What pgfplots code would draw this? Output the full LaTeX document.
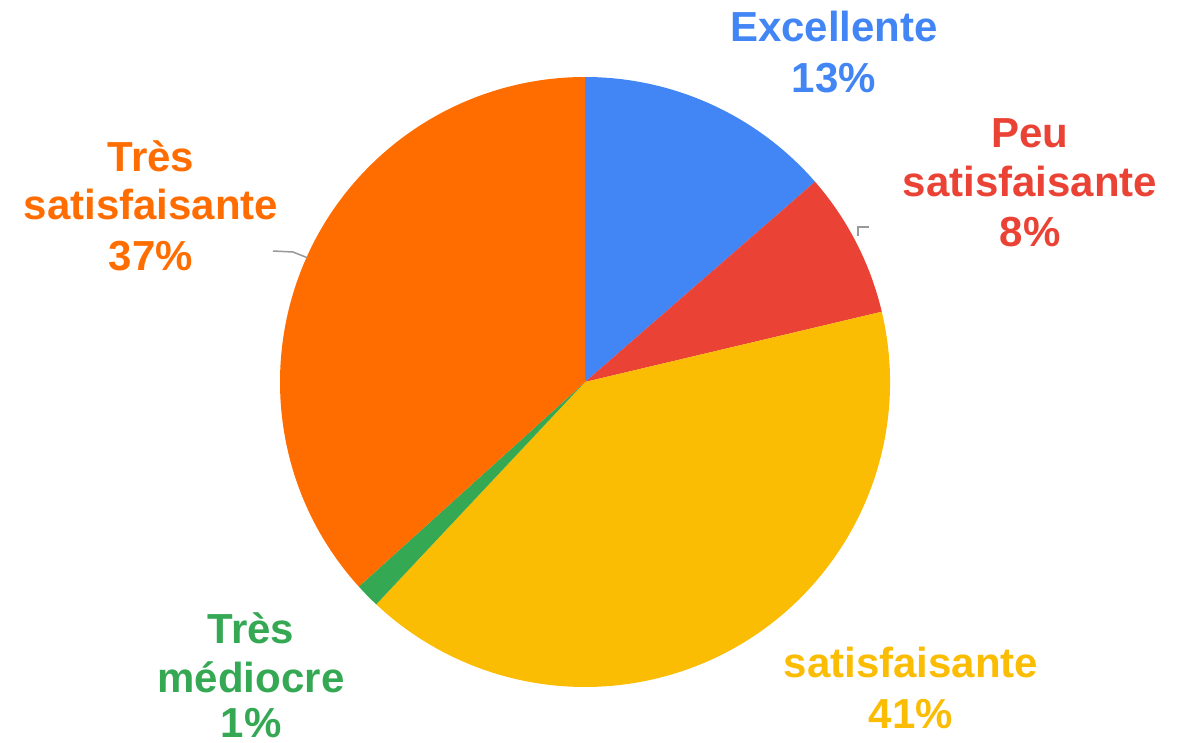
\documentclass[border=0pt]{standalone}
\usepackage{pgfplots}
\usepackage{pgfplotstable}
\pgfplotsset{compat=1.18}
\usepackage{fontspec}
\setmainfont{Liberation Sans}
\definecolor{cA}{HTML}{4285F4}
\definecolor{cB}{HTML}{EA4335}
\definecolor{cC}{HTML}{FBBC04}
\definecolor{cD}{HTML}{34A853}
\definecolor{cE}{HTML}{FF6D01}
\pgfplotstableread{
label value
Excellente 13.6
Peu 7.7
Satisfaisante 40.7
TresMediocre 1.3
TresSatisfaisante 36.7
}\datatable
\pgfplotstablegetelem{0}{value}\of\datatable \let\vA\pgfplotsretval
\pgfplotstablegetelem{1}{value}\of\datatable \let\vB\pgfplotsretval
\pgfplotstablegetelem{2}{value}\of\datatable \let\vC\pgfplotsretval
\pgfplotstablegetelem{3}{value}\of\datatable \let\vD\pgfplotsretval
\pgfplotstablegetelem{4}{value}\of\datatable \let\vE\pgfplotsretval
\pgfmathsetmacro\aA{90}
\pgfmathsetmacro\aB{\aA-3.6*\vA}
\pgfmathsetmacro\aC{\aB-3.6*\vB}
\pgfmathsetmacro\aD{\aC-3.6*\vC}
\pgfmathsetmacro\aE{\aD-3.6*\vD}
\pgfmathsetmacro\aF{\aE-3.6*\vE}
\newcommand\slice[3]{\fill[#3] (axis cs:585,382) -- ++(#1:305pt) arc[start angle=#1, end angle=#2, radius=305pt] -- cycle;}
\tikzset{lab/.style={font=\fontsize{42}{50}\selectfont\bfseries, anchor=base, inner sep=0pt, text depth=0pt}}
\begin{document}
\begin{tikzpicture}
\begin{axis}[
  width=1182pt, height=743pt, scale only axis,
  xmin=0, xmax=1182, ymin=0, ymax=743, y dir=reverse,
  hide axis, clip=false,
]
\slice{\aA}{\aB}{cA}
\slice{\aB}{\aC}{cB}
\slice{\aC}{\aD}{cC}
\slice{\aD}{\aE}{cD}
\slice{\aE}{\aF}{cE}
% leader lines
\draw[gray!80, line width=1.5pt] (axis cs:869,227) -- (axis cs:858,227) -- (axis cs:858,236);
\draw[gray!80, line width=1.5pt] (axis cs:273,251) -- (axis cs:293,252) -- (axis cs:308,258);
% labels
\node[lab, text=cA] at (axis cs:834,42) {Excellente};
\node[lab, text=cA] at (axis cs:834,93) {13\%};
\node[lab, text=cB] at (axis cs:1030,148) {Peu};
\node[lab, text=cB] at (axis cs:1030,197) {satisfaisante};
\node[lab, text=cB] at (axis cs:1030,247) {8\%};
\node[lab, text=cC] at (axis cs:911,677) {satisfaisante};
\node[lab, text=cC] at (axis cs:911,728) {41\%};
\node[lab, text=cD] at (axis cs:251,643) {Très};
\node[lab, text=cD] at (axis cs:251,692) {médiocre};
\node[lab, text=cD] at (axis cs:251,737) {1\%};
\node[lab, text=cE] at (axis cs:151,172) {Très};
\node[lab, text=cE] at (axis cs:151,220) {satisfaisante};
\node[lab, text=cE] at (axis cs:151,270) {37\%};
\end{axis}
\pgfresetboundingbox
\path (current axis.south west) rectangle (current axis.north east);
\end{tikzpicture}
\end{document}
